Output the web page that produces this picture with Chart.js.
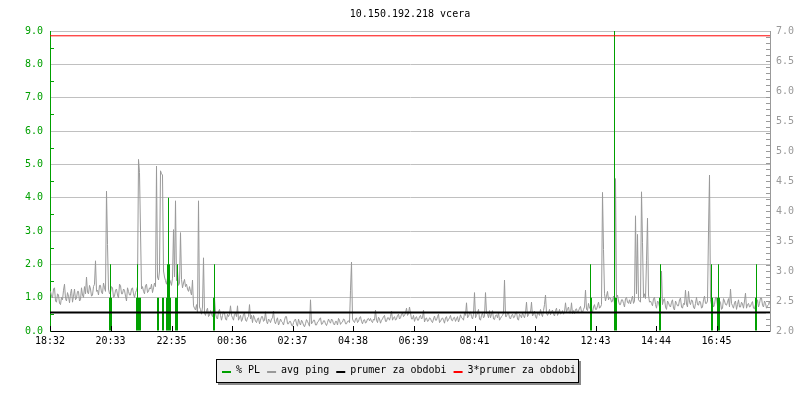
<!DOCTYPE html>
<html><head><meta charset="utf-8">
<script src="https://cdn.jsdelivr.net/npm/chart.js@4"></script>
<style>html,body{margin:0;padding:0;background:#fff}#c{display:block}</style>
</head><body>
<canvas id="c" width="800" height="400"></canvas>
<script>
const titleText = '10.150.192.218 vcera';
const xTickLabels = ['18:32','20:33','22:35','00:36','02:37','04:38','06:39','08:41','10:42','12:43','14:44','16:45'];
const spanMinutes = 1440;
const pingStepMinutes = 2;
const pingFirstMinute = 1;
// avg ping (right axis, ms), one sample every 2 minutes from 18:32
const pingValues = [
2.66,2.58,2.55,2.70,2.72,2.50,2.48,2.62,2.60,2.46,2.44,2.56,2.52,2.68,2.78,2.54,2.50,2.64,2.58,2.47,
2.62,2.70,2.48,2.58,2.70,2.52,2.55,2.66,2.66,2.50,2.52,2.72,2.60,2.56,2.74,2.62,2.90,2.64,2.62,2.76,
2.70,2.58,2.60,2.74,2.78,3.17,2.66,2.68,2.60,2.76,2.76,2.64,2.62,2.80,2.72,2.66,4.33,3.44,2.70,2.62,
2.64,2.74,2.72,2.56,2.58,2.68,2.70,2.60,2.55,2.78,2.76,2.62,2.62,2.70,2.68,2.58,2.50,2.72,2.66,2.60,
2.60,2.70,2.72,2.62,2.56,2.64,2.68,2.74,4.86,4.64,3.67,2.70,2.74,2.66,2.62,2.76,2.78,2.64,2.66,2.72,
2.70,2.78,2.64,2.72,2.80,2.74,4.75,2.90,2.85,3.00,4.67,4.62,4.60,3.00,2.90,2.84,2.78,2.88,2.80,2.86,
2.82,2.76,2.88,3.69,2.90,4.17,2.84,3.00,2.76,2.80,3.64,2.86,2.72,2.80,2.86,2.74,2.78,2.70,2.66,2.74,
2.66,2.60,2.85,2.42,2.38,2.35,2.44,2.30,4.17,2.40,2.36,2.28,2.40,3.22,2.30,2.26,2.34,2.38,2.24,2.26,
2.34,2.28,2.24,2.36,2.55,2.30,2.22,2.20,2.32,2.36,2.26,2.18,2.26,2.32,2.30,2.20,2.18,2.28,2.24,2.28,
2.42,2.26,2.22,2.18,2.28,2.30,2.24,2.42,2.18,2.22,2.26,2.16,2.20,2.28,2.30,2.18,2.16,2.22,2.24,2.44,
2.20,2.26,2.14,2.26,2.22,2.16,2.14,2.20,2.22,2.12,2.18,2.24,2.24,2.16,2.18,2.32,2.16,2.12,2.20,2.18,
2.14,2.20,2.22,2.33,2.16,2.12,2.18,2.22,2.10,2.14,2.20,2.16,2.14,2.10,2.18,2.24,2.24,2.12,2.12,2.16,
2.16,2.10,2.08,2.14,2.18,2.20,2.12,2.08,2.20,2.14,2.10,2.18,2.15,2.10,2.07,2.12,2.19,2.16,2.12,2.08,
2.52,2.12,2.14,2.18,2.18,2.10,2.10,2.15,2.16,2.20,2.22,2.11,2.12,2.17,2.17,2.12,2.09,2.14,2.20,2.16,
2.13,2.20,2.18,2.12,2.10,2.16,2.16,2.10,2.21,2.18,2.11,2.14,2.15,2.20,2.19,2.12,2.12,2.16,2.17,2.14,
2.68,3.15,2.20,2.16,2.14,2.20,2.22,2.14,2.16,2.22,2.24,2.16,2.12,2.18,2.19,2.13,2.15,2.20,2.21,2.17,
2.21,2.16,2.14,2.20,2.18,2.35,2.18,2.14,2.23,2.20,2.13,2.18,2.20,2.24,2.26,2.16,2.16,2.22,2.22,2.18,
2.24,2.33,2.18,2.22,2.24,2.18,2.20,2.26,2.28,2.20,2.22,2.28,2.30,2.24,2.26,2.30,2.38,2.26,2.29,2.40,
2.30,2.20,2.20,2.26,2.16,2.22,2.24,2.18,2.18,2.24,2.26,2.20,2.22,2.35,2.15,2.20,2.22,2.16,2.17,2.22,
2.21,2.16,2.14,2.20,2.25,2.18,2.18,2.24,2.28,2.14,2.16,2.20,2.22,2.18,2.13,2.22,2.24,2.16,2.19,2.22,
2.26,2.18,2.17,2.22,2.23,2.16,2.20,2.24,2.15,2.20,2.27,2.22,2.21,2.18,2.30,2.26,2.47,2.22,2.24,2.30,
2.32,2.24,2.20,2.28,2.64,2.22,2.26,2.30,2.36,2.20,2.18,2.26,2.30,2.22,2.24,2.64,2.30,2.28,2.22,2.34,
2.22,2.28,2.34,2.20,2.19,2.26,2.27,2.22,2.31,2.18,2.21,2.24,2.26,2.30,2.85,2.24,2.24,2.30,2.30,2.22,
2.20,2.26,2.28,2.22,2.23,2.30,2.32,2.20,2.18,2.28,2.26,2.22,2.30,2.26,2.22,2.30,2.48,2.24,2.27,2.32,
2.30,2.48,2.25,2.28,2.33,2.24,2.21,2.30,2.29,2.26,2.36,2.28,2.24,2.34,2.44,2.60,2.30,2.26,2.30,2.36,
2.27,2.32,2.35,2.28,2.25,2.34,2.38,2.26,2.30,2.36,2.28,2.30,2.34,2.28,2.32,2.47,2.32,2.36,2.40,2.30,
2.30,2.47,2.29,2.34,2.29,2.36,2.37,2.30,2.33,2.38,2.41,2.32,2.31,2.36,2.40,2.68,2.36,2.34,2.46,2.38,
2.38,2.34,2.32,2.40,2.44,2.36,2.36,2.42,2.48,2.38,2.40,2.44,4.31,3.36,2.62,2.50,2.58,2.66,2.52,2.56,
2.55,2.48,2.50,2.58,2.46,4.54,2.56,2.60,2.50,2.44,2.44,2.52,2.52,2.46,2.40,2.54,2.56,2.48,2.46,2.52,
2.45,2.52,2.58,2.46,2.50,3.92,2.62,3.61,2.52,2.50,2.48,4.32,3.47,2.56,2.62,2.54,3.18,3.88,2.60,2.48,
2.50,2.46,2.42,2.54,2.56,2.44,2.38,2.50,2.48,2.40,2.46,3.00,2.44,2.52,2.54,2.40,2.36,2.50,2.47,2.42,
2.40,2.48,2.52,2.38,2.35,2.50,2.46,2.42,2.42,2.52,2.55,2.40,2.38,2.46,2.44,2.68,2.45,2.40,2.66,2.48,
2.44,2.52,2.50,2.40,2.37,2.46,2.56,2.44,2.43,2.50,2.48,2.38,2.40,2.52,2.58,2.46,2.46,2.50,3.66,4.60,
2.52,2.44,2.52,2.40,2.44,2.56,2.56,2.42,2.40,2.50,2.48,2.36,2.38,2.54,2.50,2.44,2.43,2.48,2.54,2.40,
2.70,2.46,2.42,2.38,2.47,2.50,2.36,2.44,2.52,2.40,2.40,2.48,2.45,2.38,2.50,2.63,2.38,2.44,2.46,2.40,
2.41,2.46,2.49,2.38,2.37,2.44,2.45,2.52,2.40,2.46,2.55,2.55,2.43,2.40,2.50,2.46,2.38,2.42,2.44,2.50,
2.42
];
// % packet loss samples (minutes after 18:32, value)
const plMinutes = [119,121,123, 173,175,177,179,181, 215,217, 225,227, 233,235,237,239,241, 251,253,255, 327,329,
                   1081,1083, 1129,1131,1133, 1219,1221, 1323,1325, 1335,1337,1339, 1411,1413];
const plValues  = [1,2,1, 1,2,1,1,1, 1,1, 1,1, 1,2,4,2,1, 1,1,2, 1,2,
                   2,1, 9,1,1, 1,2, 2,1, 1,2,1, 1,2];
const avgPing = 2.307;
const tripleAvgPing = 6.92;
const seriesLabels = ['% PL', 'avg ping', 'prumer za obdobi', '3*prumer za obdobi'];

const GREEN = '#00a000', GRAY = '#999999', BLACK = '#000000', RED = '#ff0000';
const FONT = '"DejaVu Sans Mono", monospace';

function toMin(s){ const [h,m] = s.split(':').map(Number); return h*60+m; }
const startMin = toMin(xTickLabels[0]);
const xTickMinutes = xTickLabels.map(s => (toMin(s) - startMin + 1440) % 1440);

const pingData = pingValues.map((v,i) => ({x: pingFirstMinute + i*pingStepMinutes, y: v}));
const plData = plMinutes.map((m,i) => ({x: m, y: plValues[i]}));

const decorPlugin = {
  id: 'decor',
  afterDatasetsDraw(chart) {
    const {ctx, chartArea: a, scales: {x, y, y1}} = chart;
    ctx.save();
    ctx.lineWidth = 1;
    ctx.strokeStyle = GREEN; ctx.beginPath();
    for (let k = 1; k < 18; k += 2) { const py = Math.round(y.getPixelForValue(k/2)) + 0.5; ctx.moveTo(a.left, py); ctx.lineTo(a.left + 4, py); }
    ctx.stroke();
    ctx.strokeStyle = GRAY; ctx.beginPath();
    for (let k = 21; k < 70; k++) { const py = Math.round(y1.getPixelForValue(k/10)) + 0.5; ctx.moveTo(a.right - 4, py); ctx.lineTo(a.right, py); }
    ctx.stroke();
    ctx.strokeStyle = BLACK; ctx.beginPath();
    xTickMinutes.forEach(m => { const px = Math.round(x.getPixelForValue(m)) + 0.5; ctx.moveTo(px, a.bottom); ctx.lineTo(px, a.bottom - 5); });
    ctx.stroke();
    ctx.restore();
  },
  afterDraw(chart) {
    const {ctx, chartArea: a} = chart;
    ctx.save();
    ctx.font = '10px ' + FONT;
    ctx.fillStyle = BLACK; ctx.textAlign = 'center'; ctx.textBaseline = 'middle';
    ctx.fillText(titleText, (a.left + a.right)/2, 14);
    const bx = 216, by = 359, bw = 363, bh = 24;
    ctx.fillStyle = '#8a8a8a'; ctx.fillRect(bx + 2, by + 2, bw, bh);
    ctx.fillStyle = '#eeeeee'; ctx.fillRect(bx, by, bw, bh);
    ctx.strokeStyle = BLACK; ctx.lineWidth = 1; ctx.strokeRect(bx + 0.5, by + 0.5, bw - 1, bh - 1);
    ctx.textAlign = 'left';
    const colors = [GREEN, GRAY, BLACK, RED];
    let cx = 222;
    seriesLabels.forEach((lab, i) => {
      ctx.fillStyle = colors[i]; ctx.fillRect(cx, 371, 9, 2);
      cx += 14;
      ctx.fillStyle = BLACK; ctx.fillText(lab, cx, 370.5);
      cx += ctx.measureText(lab).width + 7;
    });
    ctx.restore();
  }
};

Chart.defaults.font.family = FONT;
Chart.defaults.font.size = 10;

new Chart(document.getElementById('c'), {
  type: 'line',
  data: {
    datasets: [
      { type: 'line', label: seriesLabels[1], data: pingData, yAxisID: 'y1', borderColor: GRAY, borderWidth: 1, pointRadius: 0, tension: 0, order: 4 },
      { type: 'bar', label: seriesLabels[0], data: plData, yAxisID: 'y', backgroundColor: GREEN, borderWidth: 0, barThickness: 1, inflateAmount: 0, grouped: false, order: 3 },
      { type: 'line', label: seriesLabels[2], data: [{x:0,y:avgPing},{x:spanMinutes,y:avgPing}], yAxisID: 'y1', borderColor: BLACK, borderWidth: 2, pointRadius: 0, order: 2 },
      { type: 'line', label: seriesLabels[3], data: [{x:0,y:tripleAvgPing},{x:spanMinutes,y:tripleAvgPing}], yAxisID: 'y1', borderColor: RED, borderWidth: 1, pointRadius: 0, order: 1 }
    ]
  },
  options: {
    responsive: false, animation: false, devicePixelRatio: 1,
    layout: { padding: { top: 31, left: 0, right: 0, bottom: 0 } },
    plugins: { legend: { display: false }, tooltip: { enabled: false }, title: { display: false } },
    scales: {
      x: {
        type: 'linear', min: 0, max: spanMinutes, offset: false,
        afterBuildTicks: s => { s.ticks = xTickMinutes.map(v => ({value: v})); },
        afterFit: s => { s.height = 69; },
        ticks: { autoSkip: false, maxRotation: 0, padding: 4, color: BLACK,
                 callback: (v) => { const i = xTickMinutes.indexOf(v); return i >= 0 ? xTickLabels[i] : ''; } },
        grid: { display: false, drawTicks: false },
        border: { display: true, color: BLACK, width: 1 }
      },
      y: {
        type: 'linear', position: 'left', min: 0, max: 9,
        afterFit: s => { s.width = 50; },
        ticks: { stepSize: 1, padding: 7, color: GREEN, callback: v => Number(v).toFixed(1) },
        grid: { color: c => c.tick && c.tick.value === 0 ? 'rgba(0,0,0,0)' : '#c0c0c0', drawTicks: false },
        border: { display: true, color: GREEN, width: 1 }
      },
      y1: {
        type: 'linear', position: 'right', min: 2, max: 7,
        afterFit: s => { s.width = 30; },
        ticks: { stepSize: 0.5, padding: 6, color: GRAY, callback: v => Number(v).toFixed(1) },
        grid: { drawOnChartArea: false, drawTicks: false },
        border: { display: true, color: GRAY, width: 1 }
      }
    }
  },
  plugins: [decorPlugin]
});
</script>
</body></html>
